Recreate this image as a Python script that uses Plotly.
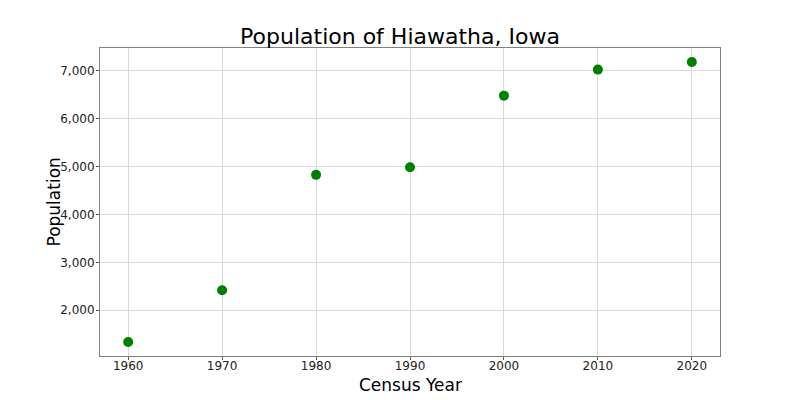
import plotly.graph_objects as go

years = [1960, 1970, 1980, 1990, 2000, 2010, 2020]
population = [1336, 2416, 4826, 4986, 6480, 7024, 7183]
x_ticks = [1960, 1970, 1980, 1990, 2000, 2010, 2020]
y_ticks = [2000, 3000, 4000, 5000, 6000, 7000]

fig = go.Figure()
fig.add_trace(go.Scatter(
    x=years, y=population, mode="markers",
    marker=dict(color="green", size=10, line=dict(width=0)),
    showlegend=False,
))

font = "DejaVu Sans"
fig.update_layout(
    width=800, height=400,
    paper_bgcolor="white", plot_bgcolor="white",
    margin=dict(l=100, r=80, t=48, b=44),
    title=dict(text="Population of Hiawatha, Iowa", x=0.5, xanchor="center",
               y=0.91, yanchor="middle",
               font=dict(family=font, size=22, color="black")),
    font=dict(family=font, color="black"),
    annotations=[
        dict(text="Census Year", xref="paper", yref="paper", x=0.5, y=-0.094,
             xanchor="center", yanchor="middle", showarrow=False,
             font=dict(family=font, size=17, color="black")),
        dict(text="Population", xref="paper", yref="paper", x=-0.075, y=0.5,
             xanchor="center", yanchor="middle", showarrow=False, textangle=-90,
             font=dict(family=font, size=17, color="black")),
    ],
)
fig.update_xaxes(
    range=[1957, 2023], tickvals=x_ticks, ticktext=[str(v) for v in x_ticks],
    showgrid=True, gridcolor="#d9d9d9", gridwidth=1,
    showline=True, linecolor="#808080", linewidth=1, mirror=True,
    ticks="outside", ticklen=3, tickcolor="#555555",
    tickfont=dict(family=font, size=12, color="#222222"),
    ticklabelstandoff=-4,
    zeroline=False, automargin=False,
)
fig.update_yaxes(
    range=[1044, 7475], tickvals=y_ticks, ticktext=[f"{v:,}" for v in y_ticks],
    showgrid=True, gridcolor="#d9d9d9", gridwidth=1,
    showline=True, linecolor="#808080", linewidth=1, mirror=True,
    ticks="outside", ticklen=3, tickcolor="#555555",
    tickfont=dict(family=font, size=12, color="#222222"),
    ticklabelstandoff=-1,
    zeroline=False, automargin=False,
)

fig.write_html("out.html")
